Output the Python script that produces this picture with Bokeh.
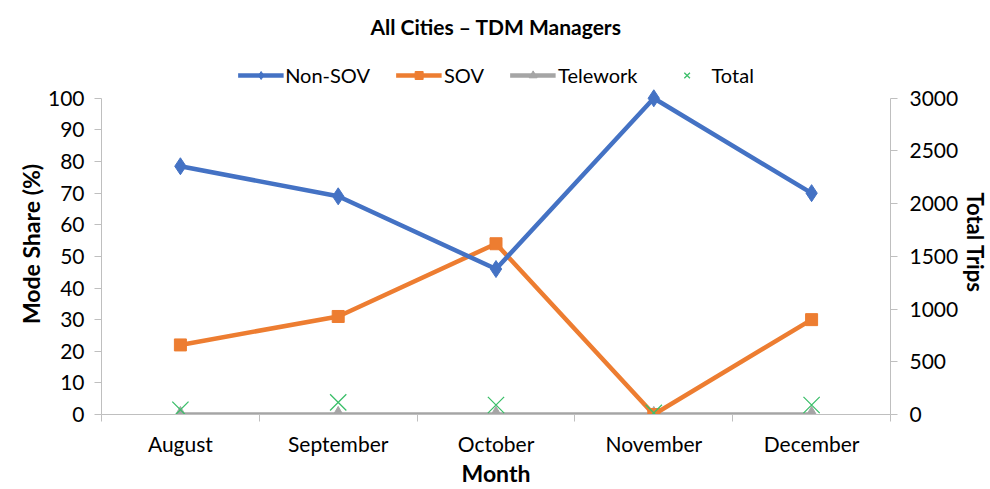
import numpy as np
from bokeh.plotting import figure
from bokeh.models import (Range1d, LinearAxis, FixedTicker, Legend, LegendItem, Label, Title)
from bokeh.embed import file_html
from bokeh.resources import INLINE

months = ["August", "September", "October", "November", "December"]
non_sov = [78.5, 69, 46, 100, 70]
sov = [22, 31, 54, 0, 30]
telework = [0, 0, 0, 0, 0]
total = [45, 115, 90, 15, 90]

share_ticks = list(range(0, 101, 10))
trip_ticks = list(range(0, 3001, 500))
title_text = "All Cities \u2013 TDM Managers"
left_title = "Mode Share (%)"
right_title = "Total Trips"

FONT = "Lato"
x = list(np.arange(len(months)) + 0.5)

W, H = 990, 489
B_LEFT, B_RIGHT, B_TOP, B_BOTTOM = 101, 98, 4, 74
PLOT_H = 317  # pixels spanned by 0..100 %
FRAME_H = H - B_TOP - B_BOTTOM
TOP = share_ticks[-1] * FRAME_H / PLOT_H  # headroom above 100 % holds title + legend

# em-space padding moves the side titles' visible text down to the centre of the 0..100 span
PAD = "\u2003" * 4

p = figure(width=W, height=H, output_backend="svg", toolbar_location=None,
           x_range=Range1d(0, len(months)), y_range=Range1d(0, TOP),
           min_border_left=B_LEFT, min_border_right=B_RIGHT,
           min_border_top=B_TOP, min_border_bottom=B_BOTTOM)
p.outline_line_color = None
p.xgrid.grid_line_color = None
p.ygrid.grid_line_color = None
p.background_fill_color = "white"
p.border_fill_color = "white"

p.extra_y_ranges = {"trips": Range1d(0, trip_ticks[-1] * TOP / share_ticks[-1])}

AX = "#bfbfbf"
xa = p.xaxis[0]
xa.ticker = FixedTicker(ticks=x, minor_ticks=list(range(len(months) + 1)))
xa.major_label_overrides = {float(v): m for v, m in zip(x, months)}
xa.major_tick_line_color = None
xa.major_tick_out = 7
xa.major_tick_in = 0
xa.minor_tick_line_color = AX
xa.minor_tick_out = 7
xa.minor_tick_in = 0
xa.axis_line_color = AX
xa.axis_label = "Month"
xa.major_label_standoff = 9
xa.axis_label_standoff = 0

ya = p.yaxis[0]
ya.ticker = FixedTicker(ticks=share_ticks)
ya.bounds = (share_ticks[0], share_ticks[-1])
ya.minor_tick_line_color = None
ya.major_tick_line_color = AX
ya.major_tick_out = 7
ya.major_tick_in = 0
ya.axis_line_color = AX
ya.major_label_standoff = 10

ra = LinearAxis(y_range_name="trips",
                ticker=FixedTicker(ticks=trip_ticks), bounds=(trip_ticks[0], trip_ticks[-1]))
ra.minor_tick_line_color = None
ra.major_tick_line_color = AX
ra.major_tick_out = 7
ra.major_tick_in = 0
ra.axis_line_color = AX
ra.major_label_standoff = 12
p.add_layout(ra, "right")

for ax in [xa, ya, ra]:
    ax.major_label_text_font = FONT
    ax.major_label_text_font_size = "21px"
    ax.major_label_text_color = "black"
    ax.axis_label_text_font = FONT
    ax.axis_label_text_font_size = "23px"
    ax.axis_label_text_font_style = "bold"
    ax.axis_label_text_color = "black"

# side axis titles (left reads upward: pad at the end; right reads downward: pad at the start)
p.add_layout(Title(text=left_title + PAD, align="center", standoff=0,
                   text_font=FONT, text_font_size="23px", text_font_style="bold",
                   text_color="black"), "left")
p.add_layout(Title(text=PAD + right_title, align="center", standoff=0,
                   text_font=FONT, text_font_size="22px", text_font_style="bold",
                   text_color="black"), "right")

# series
r_tw_l = p.line(x, telework, line_color="#a5a5a5", line_width=4.5)
r_tw_m = p.scatter(x, telework, marker="triangle", size=14, fill_color="#a5a5a5", line_color="#a5a5a5")
r_sov_l = p.line(x, sov, line_color="#ed7d31", line_width=4.5)
r_sov_m = p.scatter(x, sov, marker="square", size=12, fill_color="#ed7d31", line_color="#ed7d31")
r_ns_l = p.line(x, non_sov, line_color="#4472c4", line_width=4.5)
r_ns_m = p.scatter(x, non_sov, marker="diamond", size=17, fill_color="#4472c4", line_color="#4472c4")
r_tot = p.scatter(x, total, y_range_name="trips", marker="x", size=23,
                  line_color="#3cbf6a", line_width=1.3)

legend = Legend(items=[
    LegendItem(label="Non-SOV", renderers=[r_ns_l, r_ns_m]),
    LegendItem(label="SOV", renderers=[r_sov_l, r_sov_m]),
    LegendItem(label="Telework", renderers=[r_tw_l, r_tw_m]),
    LegendItem(label="Total", renderers=[r_tot]),
], orientation="horizontal", location="top_center")
legend.label_text_font = FONT
legend.label_text_font_size = "20px"
legend.label_text_color = "black"
legend.border_line_color = None
legend.background_fill_alpha = 0
legend.glyph_width = 46
legend.spacing = 26
legend.label_standoff = 2
legend.margin = 59
legend.padding = 0
p.add_layout(legend, "center")

p.add_layout(Label(x=len(months) / 2, y=FRAME_H - 23, y_units="screen", text=title_text,
                   text_align="center", text_baseline="middle",
                   text_font=FONT, text_font_size="21px", text_font_style="bold",
                   text_color="black"))

open("out.html", "w").write(file_html(p, INLINE))
